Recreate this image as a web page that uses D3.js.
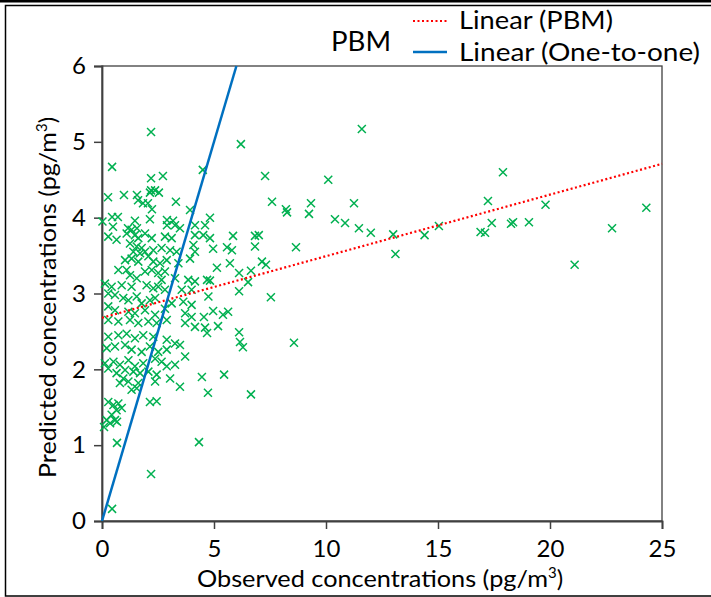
<!DOCTYPE html>
<html><head><meta charset="utf-8">
<script src="https://cdn.jsdelivr.net/npm/d3@7"></script>
<style>body{margin:0;background:#fff}svg{display:block}text{font-family:Lato,"Open Sans",sans-serif;fill:#000}</style>
</head><body><svg id="c" width="711" height="597"></svg>
<script>
// Observed (x) and predicted (y) concentrations, pg/m3
const observed = [
2.19,0.45,2.19,2.72,0.27,0.98,1.56,1.61,2.19,2.37,2.54,2.14,1.83,2.05,2.23,3.30,3.93,0.45,0.71,1.47,2.14,2.90,3.17,0.49,1.16,1.56,2.90,4.15,4.60,
6.2,4.5,7.28,10.1,7.59,8.21,8.26,9.33,9.24,10.4,10.85,4.82,5.85,6.83,7.0,4.96,5.58,5.8,6.83,8.66,
11.6,11.25,11.47,12.0,13.0,13.1,14.4,15.04,16.9,17.1,17.23,17.4,17.9,18.26,18.35,19.06,19.8,21.1,22.77,24.3,
5.13,5.71,6.12,6.65,7.14,7.32,4.69,4.82,6.52,6.12,7.54,4.96,4.55,5.4,5.63,4.6,4.69,5.18,6.12,6.16,6.29,8.57,4.46,5.45,4.73,6.65,
0.02,3.26,3.48,
0.28,0.65,1.10,1.32,1.47,1.62,1.92,2.22,2.81,3.11,4.15,4.52,4.82,
1.25,1.55,1.77,1.40,1.70,1.92,2.29,2.66,3.04,3.33,4.08,4.15,
1.03,1.32,1.62,2.07,2.29,2.59,2.89,3.93,3.41,
0.73,1.10,1.25,1.55,1.92,2.22,2.51,2.81,2.66,3.26,3.85,4.15,
0.13,0.43,0.88,1.32,1.99,2.29,2.51,2.81,3.56,4.00,
0.28,0.58,0.95,1.18,1.55,1.77,2.14,2.37,3.11,3.63,4.00,4.75,
0.28,0.58,1.18,1.47,1.92,2.37,2.81,3.71,4.00,
0.28,0.73,1.25,1.62,2.07,2.44,2.89,3.71,4.15,
0.28,0.73,1.10,1.47,1.84,2.29,2.89,3.26,3.48,
0.21,0.58,1.03,1.32,1.77,2.14,2.51,2.89,3.71,3.26,
0.13,0.51,0.80,1.18,1.47,1.84,2.37,2.66,2.89,
0.28,0.65,1.03,1.40,1.70,2.07,2.44,2.37,3.04,3.48,
0.95,0.80,1.18,1.62,1.32,1.55,
0.28,0.51,0.73,0.65,0.88,0.43,0.58,0.21,0.36,2.14,2.44,
0.09,0.67,0.67,4.33,2.19,0.45
];
const predicted = [
5.13,4.67,4.52,4.55,4.27,4.30,4.30,4.23,4.36,4.36,4.33,4.33,4.19,4.19,4.11,4.21,4.10,4.01,4.01,3.96,3.98,3.97,3.96,3.88,3.86,3.86,3.90,3.90,3.90,
4.97,4.63,4.55,4.5,4.21,4.11,4.07,4.19,4.05,3.98,3.93,4.0,3.76,3.76,3.77,3.59,3.61,3.57,3.62,3.61,
5.17,4.19,3.86,3.80,3.78,3.52,3.77,3.89,3.81,3.80,4.22,3.93,4.6,3.92,3.94,3.94,4.17,3.38,3.86,4.13,
3.34,3.40,3.27,3.30,3.42,3.38,3.18,3.17,3.15,3.03,2.95,2.77,2.69,2.72,2.76,2.55,2.48,2.57,2.49,2.36,2.29,2.35,1.9,1.93,1.69,1.67,
3.95,3.90,3.86,
3.75,3.71,3.79,3.84,3.77,3.73,3.79,3.73,3.75,3.73,3.77,3.77,3.73,
3.66,3.62,3.60,3.55,3.53,3.55,3.57,3.60,3.57,3.55,3.64,3.55,
3.44,3.46,3.42,3.49,3.42,3.40,3.44,3.46,3.40,
3.31,3.31,3.24,3.20,3.29,3.31,3.27,3.29,3.18,3.20,3.18,3.16,
3.13,3.09,3.11,3.09,3.11,3.07,3.09,3.05,3.05,3.05,
3.00,2.98,2.94,2.91,2.96,2.87,2.91,2.94,2.87,2.89,2.85,2.96,
2.83,2.78,2.76,2.74,2.78,2.72,2.80,2.74,2.69,
2.65,2.63,2.65,2.61,2.63,2.61,2.65,2.61,2.56,
2.43,2.45,2.47,2.41,2.45,2.43,2.39,2.34,2.32,
2.28,2.30,2.32,2.26,2.23,2.30,2.23,2.26,2.17,2.06,
2.08,2.10,2.06,2.12,2.04,2.08,2.14,2.10,2.04,
2.01,1.95,1.99,1.97,1.95,1.97,1.93,1.84,1.88,1.77,
1.88,1.82,1.84,1.82,1.73,1.75,
1.57,1.53,1.55,1.46,1.49,1.40,1.33,1.33,1.29,1.57,1.58,
1.24,1.31,1.03,1.04,0.62,0.16
];
const xTicks = [0,5,10,15,20,25];
const yTicks = [0,1,2,3,4,5,6];
const trendX = [0,25];          // Linear (PBM) trendline ends
const trendY = [2.68,4.71];
const oneX = [0,6];             // one-to-one line ends
const oneY = [0,6];
const legendLabels = ["Linear (PBM)","Linear (One-to-one)"];

const svg = d3.select("#c");
const x = d3.scaleLinear().domain([0,25]).range([102,662]);
const y = d3.scaleLinear().domain([0,6]).range([521,66]);
const axisCol = "#404040";

// fit a text element to a target width
function fit(sel, w){ sel.attr("textLength", w).attr("lengthAdjust","spacingAndGlyphs"); }

// outer frame
svg.append("rect").attr("x",0).attr("y",0).attr("width",711).attr("height",2.5).attr("fill","#000");
svg.append("rect").attr("x",5.5).attr("y",5.5).attr("width",720).attr("height",590.5)
  .attr("fill","none").attr("stroke","#000").attr("stroke-width",1.5);

// plot box
svg.append("rect").attr("x",x(0)).attr("y",y(6)).attr("width",x(25)-x(0)).attr("height",y(0)-y(6))
  .attr("fill","none").attr("stroke",axisCol).attr("stroke-width",1.3);

const xa = svg.append("g").attr("transform",`translate(0,${y(0)})`)
  .call(d3.axisBottom(x).tickValues(xTicks).tickSize(8).tickPadding(11).tickFormat(d3.format("d")));
const ya = svg.append("g").attr("transform",`translate(${x(0)},0)`)
  .call(d3.axisLeft(y).tickValues(yTicks).tickSize(8).tickPadding(7).tickFormat(d3.format("d")));
[xa,ya].forEach(a=>{
  a.select(".domain").attr("stroke",axisCol).attr("stroke-width",1.8);
  a.selectAll(".tick line").attr("stroke",axisCol).attr("stroke-width",1.5);
  a.selectAll(".tick text").attr("font-size",25).attr("font-family","Lato,sans-serif").attr("fill","#000")
   .attr("transform","scale(0.9,1)");
});
xa.selectAll(".tick text").attr("transform",null).attr("font-size",24);
ya.selectAll(".tick text").attr("transform",null).attr("font-size",24).attr("dx",-1);

// points
const pts = observed.map((v,i)=>[v,predicted[i]]);
const s = 4;
const g = svg.append("g").attr("stroke","#00B050").attr("stroke-width",1.5).attr("fill","none");
g.selectAll("path").data(pts).join("path")
  .attr("d",d=>{const cx=x(d[0]),cy=y(d[1]);return `M${cx-s},${cy-s}L${cx+s},${cy+s}M${cx-s},${cy+s}L${cx+s},${cy-s}`;});

// trend + one-to-one
const line = d3.line().x(d=>x(d[0])).y(d=>y(d[1]));
svg.append("path").datum(trendX.map((v,i)=>[v,trendY[i]])).attr("d",line)
  .attr("stroke","#FF0000").attr("stroke-width",2.2).attr("stroke-dasharray","2,2.5").attr("fill","none");
svg.append("path").datum(oneX.map((v,i)=>[v,oneY[i]])).attr("d",line)
  .attr("stroke","#0070C0").attr("stroke-width",2.5).attr("fill","none");

// title
svg.append("text").attr("x",331).attr("y",51).attr("font-size",27).text("PBM").call(fit,60);

// legend
const lg = svg.append("g");
lg.append("line").attr("x1",413).attr("x2",447).attr("y1",21).attr("y2",21)
  .attr("stroke","#FF0000").attr("stroke-width",2.2).attr("stroke-dasharray","2,2.5");
lg.append("line").attr("x1",413).attr("x2",447).attr("y1",52).attr("y2",52)
  .attr("stroke","#0070C0").attr("stroke-width",2.5);
lg.append("text").attr("x",459).attr("y",29).attr("font-size",25).text(legendLabels[0]).call(fit,154);
lg.append("text").attr("x",459).attr("y",61).attr("font-size",25).text(legendLabels[1]).call(fit,241);

// axis titles
const xt = svg.append("text").attr("x",197).attr("y",587).attr("font-size",24);
xt.append("tspan").text("Observed concentrations (pg/m").call(fit,351);
xt.append("tspan").attr("dy",-9).attr("font-size",15).text("3");
xt.append("tspan").attr("dy",9).text(")");
const yt = svg.append("text").attr("transform","translate(56,478) rotate(-90)").attr("font-size",24);
yt.append("tspan").text("Predicted concentrations (pg/m").call(fit,346);
yt.append("tspan").attr("dy",-9).attr("font-size",15).text("3");
yt.append("tspan").attr("dy",9).text(")");
</script></body></html>
